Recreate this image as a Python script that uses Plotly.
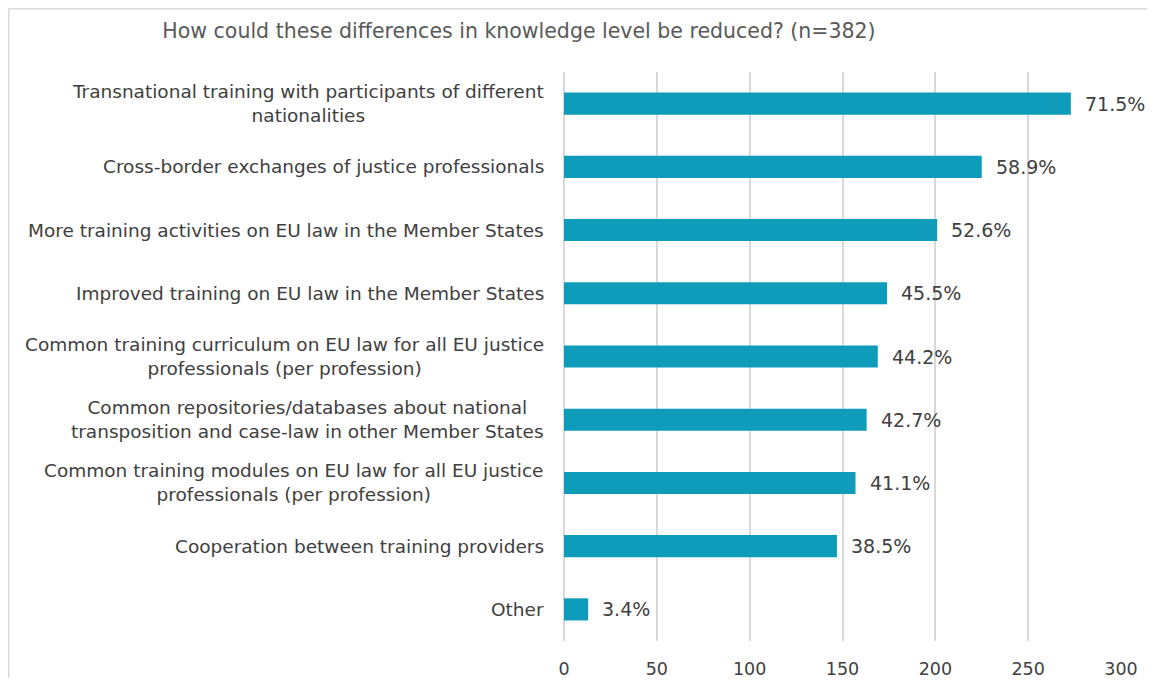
import plotly.graph_objects as go

categories = [
    "Transnational training with participants of different<br>nationalities",
    "Cross-border exchanges of justice professionals",
    "More training activities on EU law in the Member States",
    "Improved training on EU law in the Member States",
    "Common training curriculum on EU law for all EU justice<br>professionals (per profession)",
    "Common repositories/databases about national<br>transposition and case-law in other Member States",
    "Common training modules on EU law for all EU justice<br>professionals (per profession)",
    "Cooperation between training providers",
    "Other",
]
counts = [273, 225, 201, 174, 169, 163, 157, 147, 13]
pct_labels = ["71.5%", "58.9%", "52.6%", "45.5%", "44.2%", "42.7%", "41.1%", "38.5%", "3.4%"]
x_ticks = [0, 50, 100, 150, 200, 250, 300]

# page body has an 8px margin; figure sized/placed to compensate
W, H = 1139, 670
L, R, T, B = 556, 26, 64, 37
pw = W - L - R
ph = H - T - B

FONT = "DejaVu Sans"

fig = go.Figure(go.Bar(
    x=counts, y=categories, orientation="h",
    marker=dict(color="#0e9cba", line=dict(width=0)),
    hoverinfo="x+y",
))

annotations = []
for c in categories:
    annotations.append(dict(
        x=0, xref="paper", y=c, yref="y", text=c, showarrow=False,
        xanchor="right", yanchor="middle", align="center", xshift=-18,
        font=dict(family=FONT, size=18.5, color="#404040"),
    ))
for c, v, t in zip(categories, counts, pct_labels):
    annotations.append(dict(
        x=v, xref="x", y=c, yref="y", text=t, showarrow=False,
        xanchor="left", yanchor="middle", xshift=12,
        font=dict(family=FONT, size=19, color="#404040"),
    ))

fig.update_layout(
    width=W, height=H,
    margin=dict(l=L, r=R, t=T, b=B, pad=0, autoexpand=False),
    paper_bgcolor="white", plot_bgcolor="white",
    bargap=0.65,
    showlegend=False,
    title=dict(text="How could these differences in knowledge level be reduced? (n=382)",
               x=511 / W, xanchor="center", xref="container",
               y=1 - 23 / H, yanchor="middle", yref="container",
               font=dict(family=FONT, size=20.5, color="#595959")),
    font=dict(family=FONT, size=17, color="#404040"),
    xaxis=dict(range=[0, 300], tickvals=x_ticks, showgrid=True, gridcolor="#d9d9d9",
               gridwidth=1.5, zeroline=True, zerolinecolor="#d9d9d9", zerolinewidth=1.5,
               showline=False, ticks="", ticklabelstandoff=15, automargin=False,
               tickfont=dict(family=FONT, size=17.5, color="#404040")),
    yaxis=dict(autorange="reversed", showgrid=False, ticks="", showline=False,
               showticklabels=False, automargin=False),
    annotations=annotations,
    shapes=[
        dict(type="line", xref="paper", yref="paper",
             x0=(0.5 - L) / pw, x1=(0.5 - L) / pw, y0=1 + (T - 0.5) / ph, y1=-0.2,
             line=dict(color="#d9d9d9", width=2)),
        dict(type="line", xref="paper", yref="paper",
             x0=(0.5 - L) / pw, x1=1.2, y0=1 + (T - 0.5) / ph, y1=1 + (T - 0.5) / ph,
             line=dict(color="#d9d9d9", width=2)),
    ],
)

fig.write_html("out.html")
